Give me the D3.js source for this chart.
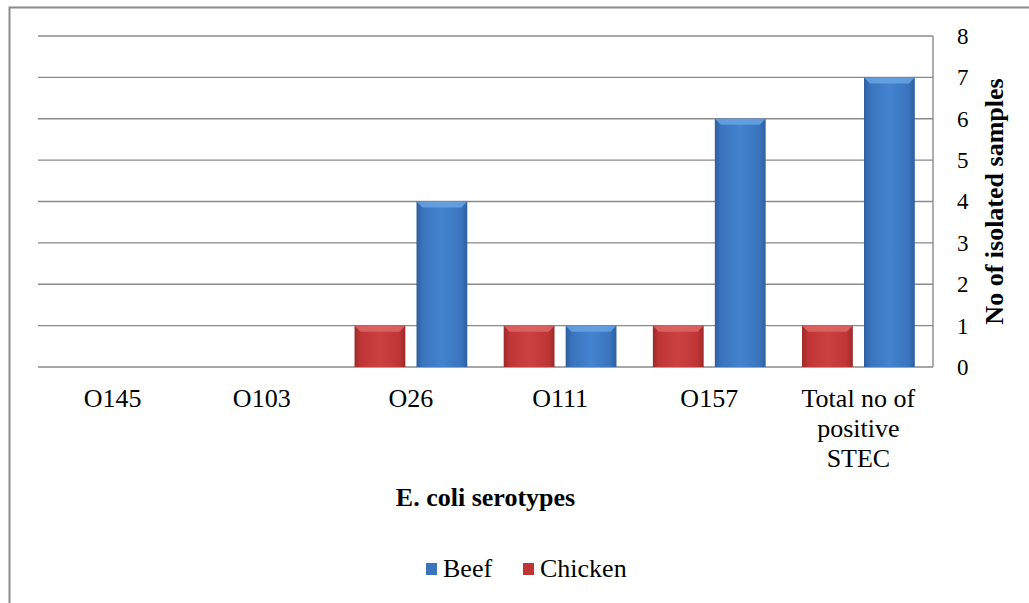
<!DOCTYPE html>
<html>
<head>
<meta charset="utf-8">
<script src="https://cdn.jsdelivr.net/npm/d3@7"></script>
<style>
  body { margin: 0; background: #fff; }
  svg text { font-family: "Liberation Serif", "Times New Roman", Times, "DejaVu Serif", serif; fill: #000; }
</style>
</head>
<body>
<div id="chart"></div>
<script>
// data
const categories = ['O145', 'O103', 'O26', 'O111', 'O157', 'Total no of positive STEC'];
const beef = [0, 0, 4, 1, 6, 7];
const chicken = [0, 0, 1, 1, 1, 1];
const yTicks = [0, 1, 2, 3, 4, 5, 6, 7, 8];
const seriesNames = ['Chicken', 'Beef'];

const serif = '"Liberation Serif", "Times New Roman", Times, "DejaVu Serif", serif';
const width = 1029, height = 603;
const margin = {left: 38, right: 96, top: 36, bottom: 236};
const innerW = width - margin.left - margin.right,
      innerH = height - margin.top - margin.bottom;

const svg = d3.select('#chart').append('svg')
	.attr('width', width)
	.attr('height', height)
	.attr('font-family', serif);

// gradients for bevelled bars
const defs = svg.append('defs');
function bevel(id, dark, mid, light){
	const g = defs.append('linearGradient').attr('id', id)
		.attr('x1', 0).attr('x2', 1).attr('y1', 0).attr('y2', 0);
	g.append('stop').attr('offset', '0%').attr('stop-color', dark);
	g.append('stop').attr('offset', '12%').attr('stop-color', mid);
	g.append('stop').attr('offset', '50%').attr('stop-color', light);
	g.append('stop').attr('offset', '88%').attr('stop-color', mid);
	g.append('stop').attr('offset', '100%').attr('stop-color', dark);
}
bevel('gBeef', '#2d5f9e', '#3a74bd', '#4483cf');
bevel('gChicken', '#9c2a2a', '#bf3535', '#cc4040');
const fills = {Beef: 'url(#gBeef)', Chicken: 'url(#gChicken)'};
const tops = {Beef: '#6aa6e6', Chicken: '#e06a6a'};
const legendFill = {Beef: '#3a74bd', Chicken: '#bf3535'};

// outer frame
svg.append('rect')
	.attr('x', 9.5).attr('y', 7.5)
	.attr('width', width).attr('height', height)
	.attr('fill', 'none').attr('stroke', '#8c8c8c').attr('stroke-width', 2);

const x0 = d3.scaleBand()
	.domain(categories)
	.range([margin.left, margin.left + innerW]);

const x1 = d3.scaleBand()
	.domain(seriesNames)
	.range([x0.bandwidth() * 0.122, x0.bandwidth() * 0.878])
	.paddingInner(0.18);

const y = d3.scaleLinear()
	.domain([0, 8])
	.range([margin.top + innerH, margin.top]);

// gridlines
svg.append('g').selectAll('line')
	.data(yTicks)
	.join('line')
	.attr('x1', margin.left).attr('x2', margin.left + innerW)
	.attr('y1', d => y(d)).attr('y2', d => y(d))
	.attr('stroke', '#8a8a8a').attr('stroke-width', 1.4);

// right axis line
svg.append('line')
	.attr('x1', margin.left + innerW).attr('x2', margin.left + innerW)
	.attr('y1', y(8)).attr('y2', y(0))
	.attr('stroke', '#8a8a8a').attr('stroke-width', 1.4);

// right axis
const yAxis = svg.append('g')
	.attr('transform', `translate(${margin.left + innerW}, 0)`)
	.call(d3.axisRight(y).tickValues(yTicks).tickSize(0).tickPadding(24).tickFormat(d3.format('d')));
yAxis.attr('font-family', serif).attr('font-size', 23);
yAxis.select('.domain').remove();
yAxis.selectAll('text').attr('fill', '#000');

// bars
const rows = [];
categories.forEach((c, i) => {
	rows.push({cat: c, s: 'Chicken', v: chicken[i]});
	rows.push({cat: c, s: 'Beef', v: beef[i]});
});
const bars = svg.append('g').selectAll('g')
	.data(rows.filter(d => d.v > 0))
	.join('g');
bars.append('rect')
	.attr('x', d => x0(d.cat) + x1(d.s))
	.attr('y', d => y(d.v))
	.attr('width', x1.bandwidth())
	.attr('height', d => y(0) - y(d.v))
	.attr('fill', d => fills[d.s]);
bars.append('path')
	.attr('d', d => {
		const xl = x0(d.cat) + x1(d.s), xr = xl + x1.bandwidth(), yt = y(d.v);
		return `M${xl},${yt}L${xr},${yt}L${xr - 6},${yt + 6}L${xl + 6},${yt + 6}Z`;
	})
	.attr('fill', d => tops[d.s])
	.attr('opacity', 0.8);

// category labels
const catLabels = svg.append('g').selectAll('text')
	.data(categories)
	.join('text')
	.attr('x', d => x0(d) + x0.bandwidth() / 2)
	.attr('y', y(0) + 40)
	.attr('text-anchor', 'middle')
	.attr('font-size', 26);
catLabels.each(function(d){
	const lines = d === 'Total no of positive STEC' ? ['Total no of', 'positive', 'STEC'] : [d];
	d3.select(this).selectAll('tspan')
		.data(lines)
		.join('tspan')
		.attr('x', x0(d) + x0.bandwidth() / 2)
		.attr('dy', (l, i) => i === 0 ? 0 : 30)
		.text(l => l);
});

// axis titles
svg.append('text')
	.attr('x', x0('O26') + x0.bandwidth())
	.attr('y', 506)
	.attr('text-anchor', 'middle')
	.attr('font-size', 26)
	.attr('font-weight', 'bold')
	.text('E. coli serotypes');

svg.append('text')
	.attr('transform', `translate(1003, ${y(4)}) rotate(-90)`)
	.attr('text-anchor', 'middle')
	.attr('font-size', 26)
	.attr('font-weight', 'bold')
	.text('No of isolated samples');

// legend
const legendItems = [{s: 'Beef', x: 426}, {s: 'Chicken', x: 523}];
const legend = svg.append('g').selectAll('g')
	.data(legendItems)
	.join('g')
	.attr('transform', d => `translate(${d.x}, 563)`);
legend.append('rect')
	.attr('width', 11).attr('height', 12)
	.attr('fill', d => legendFill[d.s]);
legend.append('text')
	.attr('x', 17).attr('y', 14)
	.attr('font-size', 26)
	.text(d => d.s);
</script>
</body>
</html>
